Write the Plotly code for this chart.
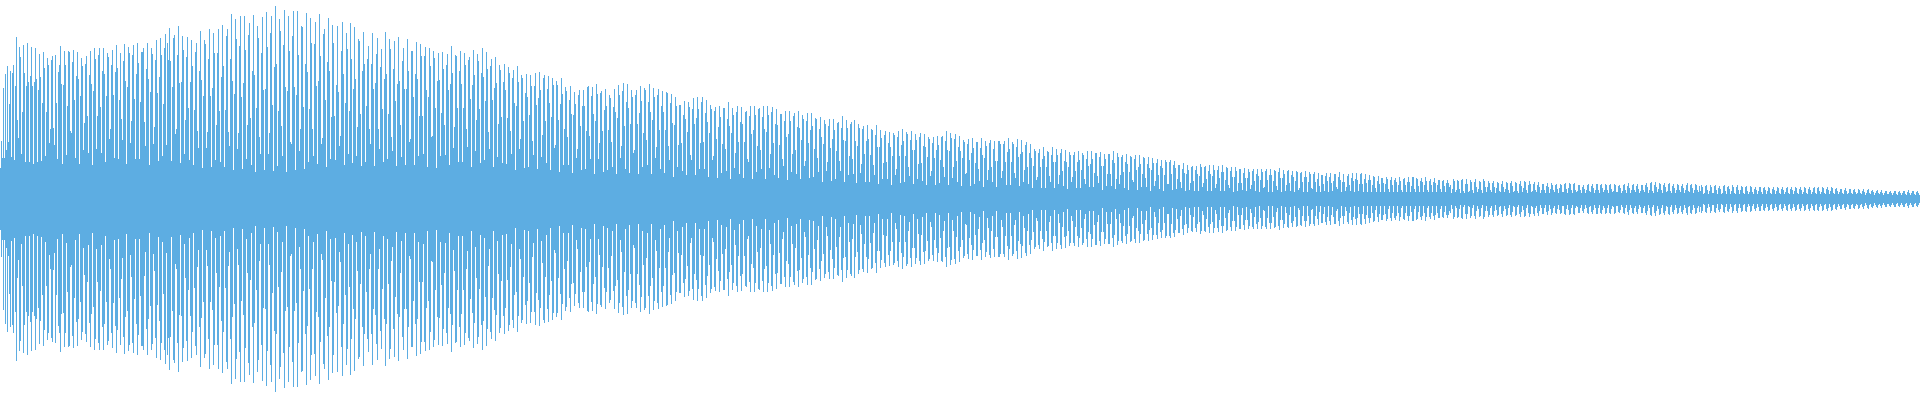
import plotly.graph_objects as go

# half-height of the waveform in each pixel column
amp_0000 = [
31,58,41,111,41,125,49,133,57,95,128,42,126,134,39,113,162,79,61,152,
142,45,87,154,126,37,113,156,117,37,123,152,113,35,117,151,120,37,109,145,
122,38,96,147,131,43,87,141,134,56,70,139,143,71,54,144,96,40,127,134,
153,115,35,114,148,134,44,93,148,147,68,66,137,149,99,41,123,147,120,35,
103,141,133,49,76,135,143,83,46,124,148,115,34,108,151,140,50,83,144,151,
92,46,128,151,125,37,103,146,142,60,70,134,149,104,41,127,154,131,40,99,
146,80,59,138,155,118,35,112,152,146,56,78,144,154,100,40,125,156,136,40,
97,147,147,151,77,53,130,156,120,34,107,151,145,55,72,139,159,106,38,122,
161,144,43,95,151,165,54,156,139,171,138,38,112,161,164,65,70,144,173,116,
36,117,163,149,45,79,142,162,91,39,117,159,133,34,89,147,156,68,51,128]
amp_0200 = [
168,119,31,103,159,155,51,67,140,170,103,32,111,166,146,39,74,146,170,88,
37,122,174,133,32,89,163,170,67,53,140,185,118,29,105,180,160,50,66,153,
183,102,30,116,183,149,40,74,164,176,81,34,128,184,124,27,91,173,161,62,
45,146,182,109,29,110,187,152,45,66,166,183,94,28,132,193,135,33,88,180,
168,73,43,154,189,112,27,108,183,148,57,55,163,188,112,29,104,188,144,48,
70,173,172,92,30,135,186,127,37,90,181,156,70,43,155,177,113,35,118,185,
143,55,61,165,170,99,32,137,181,128,40,82,174,156,83,39,114,173,107,53,
63,148,177,125,34,96,166,150,45,88,176,140,36,110,172,120,43,72,160,158,
85,33,128,167,135,37,93,140,153,70,55,135,166,110,33,116,145,161,70,50,
132,150,90,37,120,167,125,40,85,160,150,62,48,130,158,98,33,115,162,118]
amp_0400 = [
74,42,138,151,110,34,110,160,128,57,60,148,148,102,34,125,157,120,43,83,
155,143,83,45,143,152,109,32,102,151,133,62,63,148,141,91,31,118,146,119,
43,86,147,130,74,44,134,145,109,34,115,153,126,51,72,144,143,91,37,128,
148,115,37,91,146,134,70,52,139,142,100,32,114,149,124,48,79,145,138,90,
36,126,151,122,39,98,147,130,67,50,133,140,99,32,111,142,116,42,75,134,
129,82,36,117,135,109,35,81,132,126,68,45,121,129,96,29,93,133,117,50,
60,124,121,78,31,106,125,102,32,84,124,113,58,44,113,126,94,30,101,127,
109,42,64,121,124,78,36,110,123,96,29,82,121,114,51,54,118,114,79,27,
95,121,105,34,70,112,108,62,34,99,113,85,26,84,107,95,41,50,104,109,
73,29,93,109,93,30,68,112,113,63,40,103,112,85,25,78,115,105,40,56]
amp_0600 = [
106,108,68,27,89,110,93,29,69,104,101,57,32,92,110,87,25,81,114,104,
41,53,108,116,73,30,97,115,91,26,75,109,102,46,49,104,109,75,25,86,
113,98,32,66,111,109,59,34,97,115,87,25,79,111,102,41,52,104,110,69,
30,93,108,87,26,69,107,106,53,39,96,105,76,22,74,102,93,32,54,94,
94,56,28,84,98,80,24,67,97,92,44,39,90,101,75,24,81,102,90,30,
56,97,102,57,30,86,99,77,22,66,94,90,39,43,88,92,60,21,72,93,
82,26,55,91,91,50,28,80,97,73,20,66,91,84,31,46,87,93,57,25,
77,92,75,21,57,87,88,40,37,83,93,65,20,69,93,84,27,53,90,91,
49,30,82,93,70,20,67,93,84,31,45,87,92,56,24,75,90,74,21,54,
85,85,40,33,78,88,62,19,65,88,78,27,45,83,86,49,25,72,88,71]
amp_0800 = [
20,59,84,80,33,38,78,86,56,21,69,86,73,22,50,81,80,41,27,70,
82,62,17,55,79,75,28,37,73,80,51,18,60,80,69,20,48,76,77,38,
28,71,83,59,17,58,79,71,24,43,75,77,40,25,79,58,16,53,75,71,
26,35,70,73,45,17,58,74,60,17,44,70,69,34,24,64,74,52,15,52,
69,61,20,36,64,68,37,20,56,67,52,14,43,66,64,24,30,62,68,43,
16,54,70,58,17,43,67,65,32,23,59,68,49,15,49,65,59,20,35,62,
66,36,18,53,65,52,14,42,62,60,23,28,56,62,41,14,49,63,54,16,
39,62,63,32,22,58,68,49,14,48,66,61,21,32,60,65,38,17,52,63,
48,13,41,59,57,25,26,55,60,39,13,46,61,51,15,36,57,57,30,18,
51,61,44,12,41,58,53,19,29,56,59,32,17,50,58,38,12,38,58,58]
amp_1000 = [
55,21,28,55,58,37,14,47,61,50,14,37,57,55,26,21,52,60,42,13,
45,59,47,17,29,54,57,32,15,46,55,41,11,33,50,48,19,22,46,50,
32,11,40,52,43,11,32,48,47,23,17,44,52,37,11,37,50,44,15,24,
46,50,28,13,38,49,37,10,32,47,44,17,22,44,47,28,11,37,48,39,
11,29,46,44,20,15,40,48,33,12,35,48,40,12,26,46,46,23,16,42,
47,33,9,33,45,40,13,25,45,45,25,13,39,48,36,10,20,46,42,15,
24,42,44,27,11,37,45,35,9,27,43,42,19,17,40,44,29,9,32,44,
35,12,25,42,41,21,12,35,42,31,8,29,41,36,13,18,36,40,24,10,
33,39,31,8,24,39,37,15,15,37,39,25,9,34,38,31,10,20,34,34,
17,11,30,36,26,8,25,34,29,9,16,32,33,18,8,29,33,25,8,23]
amp_1200 = [
35,32,12,16,32,33,20,8,28,34,25,8,23,34,29,11,15,29,33,21,
8,27,34,27,8,19,32,31,14,11,28,32,22,7,22,32,28,8,16,30,
30,16,9,26,31,21,8,21,30,27,10,14,28,30,18,8,25,30,23,7,
19,30,27,11,12,28,30,19,7,24,30,24,7,18,29,28,13,9,27,31,
21,7,21,29,25,8,14,28,29,16,8,24,28,22,7,18,28,27,9,11,
26,27,17,7,22,28,22,7,17,27,25,11,10,25,27,17,7,20,26,13,
7,24,24,15,8,23,26,18,7,22,26,16,8,18,25,25,12,10,22,27,
19,7,17,25,17,8,12,23,25,14,8,21,26,18,7,20,26,19,8,15,
25,26,15,7,20,25,16,7,19,24,19,7,14,23,22,11,7,18,23,15,
7,21,21,16,7,15,22,20,10,7,19,22,14,7,19,21,17,7,14,22,
18,9,7,20,21,14,7,17,22,17,7,13,22,22,10,7,21,20,13,7,
18,21,17,7,14,22,18,9,7,18,20,14,7,17,21,16,7,14,19,19,
10,7,18,19,13,7,16,19,16,12]
amp_1450 = [
14,6,10,20,18,7,9,19,18,10,6,19,20,8,6,15,20,15,7,8,
19,17,9,6,17,20,12,7,10,18,17,9,6,20,18,12,7,12,18,16,
9,7,16,18,12,6,11,17,16,8,7,15,18,12,7,10,17,16,9,6,
16,18,13,7,8,17,16,8,6,15,18,13,7,11,18,17,9,6,14,18,
15,7,8,15,17,9,7,14,17,12,6,9,15,15,9,6,13,16,12,6,
10,16,14,9,7,14,15,10,6,11,15,14,7,7,15,16,10,6,11,16,
15,9,6,15,16,9,7,8,14,14,9,6,12,14,10,6,9,14,15,8,
7,13,15,11,6,9,15,15,9,6,14,15,11,7,9,15,14,9,6,14,
15,10,7,8,15,14,7,7,13,14,11,6,8,14,15,9,6,13,16,11,
6,9,14,15,9,7,13,15,10,6,8,14,14,9,7,14,16,12,6,9,
16,17,8,6,14,17,12,7,10,16,15,9,6,14,16,12,7,8,15,16,
8,6,13,15,11,6,9,15,14,9,7,13,15,11,6,9,14,16,8,7,
14,15,11,6,9,15,14,9,7,13]
amp_1700 = [
8,14,12,5,6,13,14,9,5,8,14,12,6,6,13,14,9,5,11,13,
10,5,6,13,14,8,5,12,13,10,5,8,14,12,6,5,12,14,9,5,
9,13,12,6,5,12,13,8,5,7,13,12,7,5,10,12,9,5,8,12,
12,7,5,11,12,9,5,8,12,11,6,5,10,12,9,5,8,12,11,6,
5,10,12,9,5,7,11,12,6,5,10,12,9,5,8,12,11,6,5,10,
12,9,5,7,12,11,6,5,10,12,9,5,7,11,12,6,5,11,12,8,
5,7,12,11,6,5,10,12,9,5,8,12,11,6,5,10,11,8,5,7,
10,10,6,5,9,11,8,5,6,10,10,6,5,9,10,7,5,6,10,9,
6,5,8,10,7,4,6,9,10,6,5,8,9,7,4,6,8,9,6,5,
7,9,6,4,6,8,8,5,5,7,8,6,4,6,8,8,5,4,7,8,
6,4,6,8,8,5,4,7,9,6,4,6,8,8,5,4,7,8,6,4]

amp = amp_0000 + amp_0200 + amp_0400 + amp_0600 + amp_0800 + amp_1000 + amp_1200 + amp_1450 + amp_1700
columns = list(range(len(amp)))

fig = go.Figure(go.Bar(
    x=columns,
    y=[2 * v for v in amp],
    base=[-v for v in amp],
    marker=dict(color="#5DADE2", line=dict(width=0)),
    hoverinfo="skip",
))
fig.update_layout(
    width=1920, height=400,
    margin=dict(l=0, r=0, t=0, b=0),
    paper_bgcolor="white", plot_bgcolor="white",
    bargap=0, showlegend=False,
    xaxis=dict(visible=False, range=[-0.5, 1919.5], fixedrange=True),
    yaxis=dict(visible=False, range=[-200.6, 199.4], fixedrange=True),
)
fig.write_html("out.html", config={"displayModeBar": False},
               post_script="document.body.style.margin='0';")
